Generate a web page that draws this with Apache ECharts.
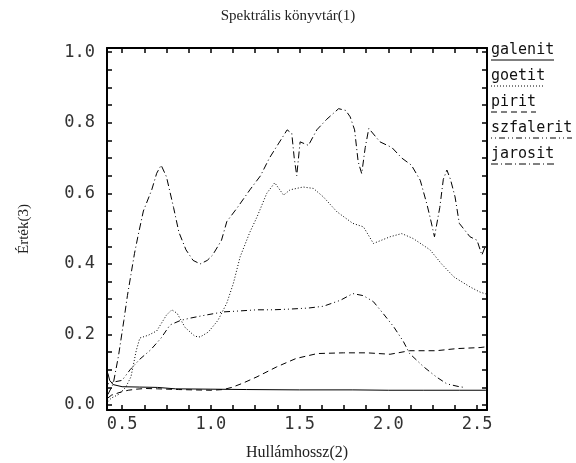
<!DOCTYPE html>
<html>
<head>
<meta charset="utf-8">
<script src="https://cdn.jsdelivr.net/npm/echarts@6/dist/echarts.min.js"></script>
<style>html,body{margin:0;padding:0;background:#fff}#c{width:576px;height:463px}</style>
</head>
<body>
<div id="c"></div>
<script>
// ---- data ----
const seriesNames = ['galenit', 'goetit', 'pirit', 'szfalerit', 'jarosit'];

const galenitX = [0.42, 0.43, 0.45, 0.5, 0.6, 0.7, 0.8, 1.0, 1.2, 1.5, 1.8, 2.0, 2.2, 2.4, 2.55];
const galenitY = [0.09, 0.07, 0.058, 0.052, 0.051, 0.05, 0.046, 0.045, 0.044, 0.043, 0.043, 0.042, 0.042, 0.042, 0.042];

const goetitX = [0.42, 0.44, 0.48, 0.52, 0.55, 0.58, 0.60, 0.648, 0.695, 0.75, 0.78, 0.81, 0.855, 0.91, 0.94, 0.986, 1.04, 1.09, 1.127, 1.165, 1.22, 1.26, 1.315, 1.36, 1.41, 1.446, 1.52, 1.578, 1.634, 1.71, 1.80, 1.86, 1.916, 2.01, 2.076, 2.14, 2.235, 2.30, 2.37, 2.46, 2.517, 2.55];
const goetitY = [0.01, 0.02, 0.03, 0.05, 0.08, 0.155, 0.19, 0.198, 0.21, 0.255, 0.27, 0.26, 0.22, 0.195, 0.193, 0.207, 0.24, 0.289, 0.345, 0.42, 0.49, 0.533, 0.60, 0.63, 0.595, 0.61, 0.618, 0.614, 0.59, 0.548, 0.515, 0.505, 0.458, 0.477, 0.486, 0.472, 0.44, 0.40, 0.363, 0.335, 0.32, 0.315];

const piritX = [0.42, 0.44, 0.5, 0.535, 0.58, 0.63, 0.7, 0.817, 0.9, 1.005, 1.07, 1.118, 1.18, 1.26, 1.37, 1.48, 1.60, 1.747, 1.88, 2.01, 2.12, 2.27, 2.385, 2.517, 2.55];
const piritY = [0.02, 0.028, 0.038, 0.042, 0.045, 0.047, 0.046, 0.044, 0.043, 0.042, 0.044, 0.05, 0.062, 0.08, 0.108, 0.132, 0.146, 0.148, 0.148, 0.144, 0.154, 0.154, 0.16, 0.163, 0.165];

const szfaleritX = [0.42, 0.45, 0.50, 0.545, 0.60, 0.66, 0.72, 0.77, 0.83, 0.88, 0.95, 1.07, 1.17, 1.26, 1.35, 1.446, 1.55, 1.634, 1.73, 1.80, 1.86, 1.916, 1.97, 2.03, 2.085, 2.12, 2.2, 2.27, 2.33, 2.40, 2.43];
const szfaleritY = [0.06, 0.065, 0.07, 0.10, 0.13, 0.156, 0.19, 0.227, 0.24, 0.246, 0.253, 0.264, 0.267, 0.27, 0.27, 0.272, 0.275, 0.28, 0.297, 0.316, 0.31, 0.293, 0.26, 0.222, 0.18, 0.146, 0.108, 0.08, 0.06, 0.052, 0.05];

const jarositX = [0.42, 0.45, 0.48, 0.51, 0.53, 0.55, 0.57, 0.59, 0.62, 0.667, 0.695, 0.72, 0.75, 0.79, 0.82, 0.86, 0.90, 0.94, 0.98, 1.01, 1.06, 1.09, 1.15, 1.22, 1.28, 1.33, 1.38, 1.43, 1.456, 1.47, 1.484, 1.503, 1.55, 1.597, 1.653, 1.72, 1.76, 1.785, 1.81, 1.83, 1.85, 1.87, 1.89, 1.953, 2.02, 2.076, 2.13, 2.18, 2.217, 2.235, 2.26, 2.29, 2.31, 2.33, 2.35, 2.376, 2.40, 2.46, 2.50, 2.527, 2.545];
const jarositY = [0.03, 0.06, 0.14, 0.24, 0.31, 0.37, 0.43, 0.48, 0.55, 0.61, 0.657, 0.68, 0.647, 0.56, 0.49, 0.44, 0.41, 0.40, 0.41, 0.425, 0.467, 0.52, 0.56, 0.61, 0.65, 0.70, 0.74, 0.78, 0.77, 0.70, 0.65, 0.746, 0.736, 0.78, 0.81, 0.84, 0.835, 0.817, 0.78, 0.69, 0.656, 0.73, 0.784, 0.746, 0.73, 0.70, 0.68, 0.637, 0.57, 0.533, 0.477, 0.56, 0.64, 0.666, 0.64, 0.59, 0.515, 0.477, 0.467, 0.425, 0.448];

const xLabels = [0.5, 1.0, 1.5, 2.0, 2.5];
const yLabels = [0.0, 0.2, 0.4, 0.6, 0.8, 1.0];
const xTicks = [0.5, 0.625, 0.75, 0.875, 1.0, 1.125, 1.25, 1.375, 1.5, 1.625, 1.75, 1.875, 2.0, 2.125, 2.25, 2.375, 2.5];
const yTicks = [0, 0.05, 0.1, 0.15, 0.2, 0.25, 0.3, 0.35, 0.4, 0.45, 0.5, 0.55, 0.6, 0.65, 0.7, 0.75, 0.8, 0.85, 0.9, 0.95, 1.0];

// ---- styling ----
const dashes = {
  galenit: 'solid',
  goetit: [1, 2],
  pirit: [6, 4],
  szfalerit: [1, 3, 1, 3, 6, 3],
  jarosit: [7, 3, 1, 3]
};
const xs = {galenit: galenitX, goetit: goetitX, pirit: piritX, szfalerit: szfaleritX, jarosit: jarositX};
const ys = {galenit: galenitY, goetit: goetitY, pirit: piritY, szfalerit: szfaleritY, jarosit: jarositY};

const X_MIN = 0.415, X_MAX = 2.556, Y_MIN = -0.014, Y_MAX = 1.012;
const monoFont = '"DejaVu Sans Mono", monospace';
const serifFont = '"Liberation Serif", "DejaVu Serif", serif';

function xAxisDef(pos, labels) {
  return {
    type: 'value', position: pos, min: X_MIN, max: X_MAX,
    axisLine: {show: true, onZero: false, lineStyle: {color: '#000', width: 2}},
    axisTick: {show: true, inside: true, length: 5, customValues: xTicks, lineStyle: {color: '#000', width: 1.5}},
    axisLabel: labels ? {show: true, customValues: xLabels, formatter: v => v.toFixed(1), fontFamily: monoFont, fontSize: 17, color: '#333', margin: 6} : {show: false},
    splitLine: {show: false},
    name: labels ? 'Hullámhossz(2)' : '', nameLocation: 'middle', nameGap: 35,
    nameTextStyle: {fontFamily: serifFont, fontSize: 16, color: '#222'}
  };
}
function yAxisDef(pos, labels) {
  return {
    type: 'value', position: pos, min: Y_MIN, max: Y_MAX,
    axisLine: {show: true, onZero: false, lineStyle: {color: '#000', width: 2}},
    axisTick: {show: true, inside: true, length: 5, customValues: yTicks, lineStyle: {color: '#000', width: 1.5}},
    axisLabel: labels ? {show: true, customValues: yLabels, formatter: v => v.toFixed(1), fontFamily: monoFont, fontSize: 17, color: '#333', margin: 12} : {show: false},
    splitLine: {show: false},
    name: labels ? 'Érték(3)' : '', nameLocation: 'middle', nameGap: 75, nameRotate: 90,
    nameTextStyle: {fontFamily: serifFont, fontSize: 15, color: '#222'}
  };
}

const series = seriesNames.map(n => ({
  name: n, type: 'line', xAxisIndex: 0, yAxisIndex: 0,
  symbol: 'none', showSymbol: false, smooth: false,
  lineStyle: {color: '#000', width: 1, type: dashes[n]},
  data: xs[n].map((x, i) => [x, ys[n][i]])
}));

// legend drawn as text with underline in series line style
const legendLeft = 491, legendTop = 50, legendStep = 26, charW = 9;
const graphic = [];
seriesNames.forEach((n, i) => {
  const cy = legendTop + i * legendStep;
  graphic.push({type: 'text', x: legendLeft, y: cy, style: {text: n, font: '15px ' + monoFont, fill: '#111', textVerticalAlign: 'middle'}});
  graphic.push({type: 'line', shape: {x1: legendLeft, y1: cy + 10, x2: legendLeft + n.length * charW, y2: cy + 10},
    style: {stroke: '#000', lineWidth: 1, lineDash: dashes[n] === 'solid' ? null : dashes[n]}});
});

const chart = echarts.init(document.getElementById('c'), null, {renderer: 'canvas'});
chart.setOption({
  animation: false,
  backgroundColor: '#fff',
  title: {text: 'Spektrális könyvtár(1)', left: 'center', top: 4,
    textStyle: {fontFamily: serifFont, fontSize: 15, fontWeight: 'normal', color: '#222'}},
  grid: {left: 107, right: 89, top: 48, bottom: 53, containLabel: false, outerBoundsMode: 'none'},
  xAxis: [xAxisDef('bottom', true), xAxisDef('top', false)],
  yAxis: [yAxisDef('left', true), yAxisDef('right', false)],
  series: series,
  graphic: graphic
});
</script>
</body>
</html>
